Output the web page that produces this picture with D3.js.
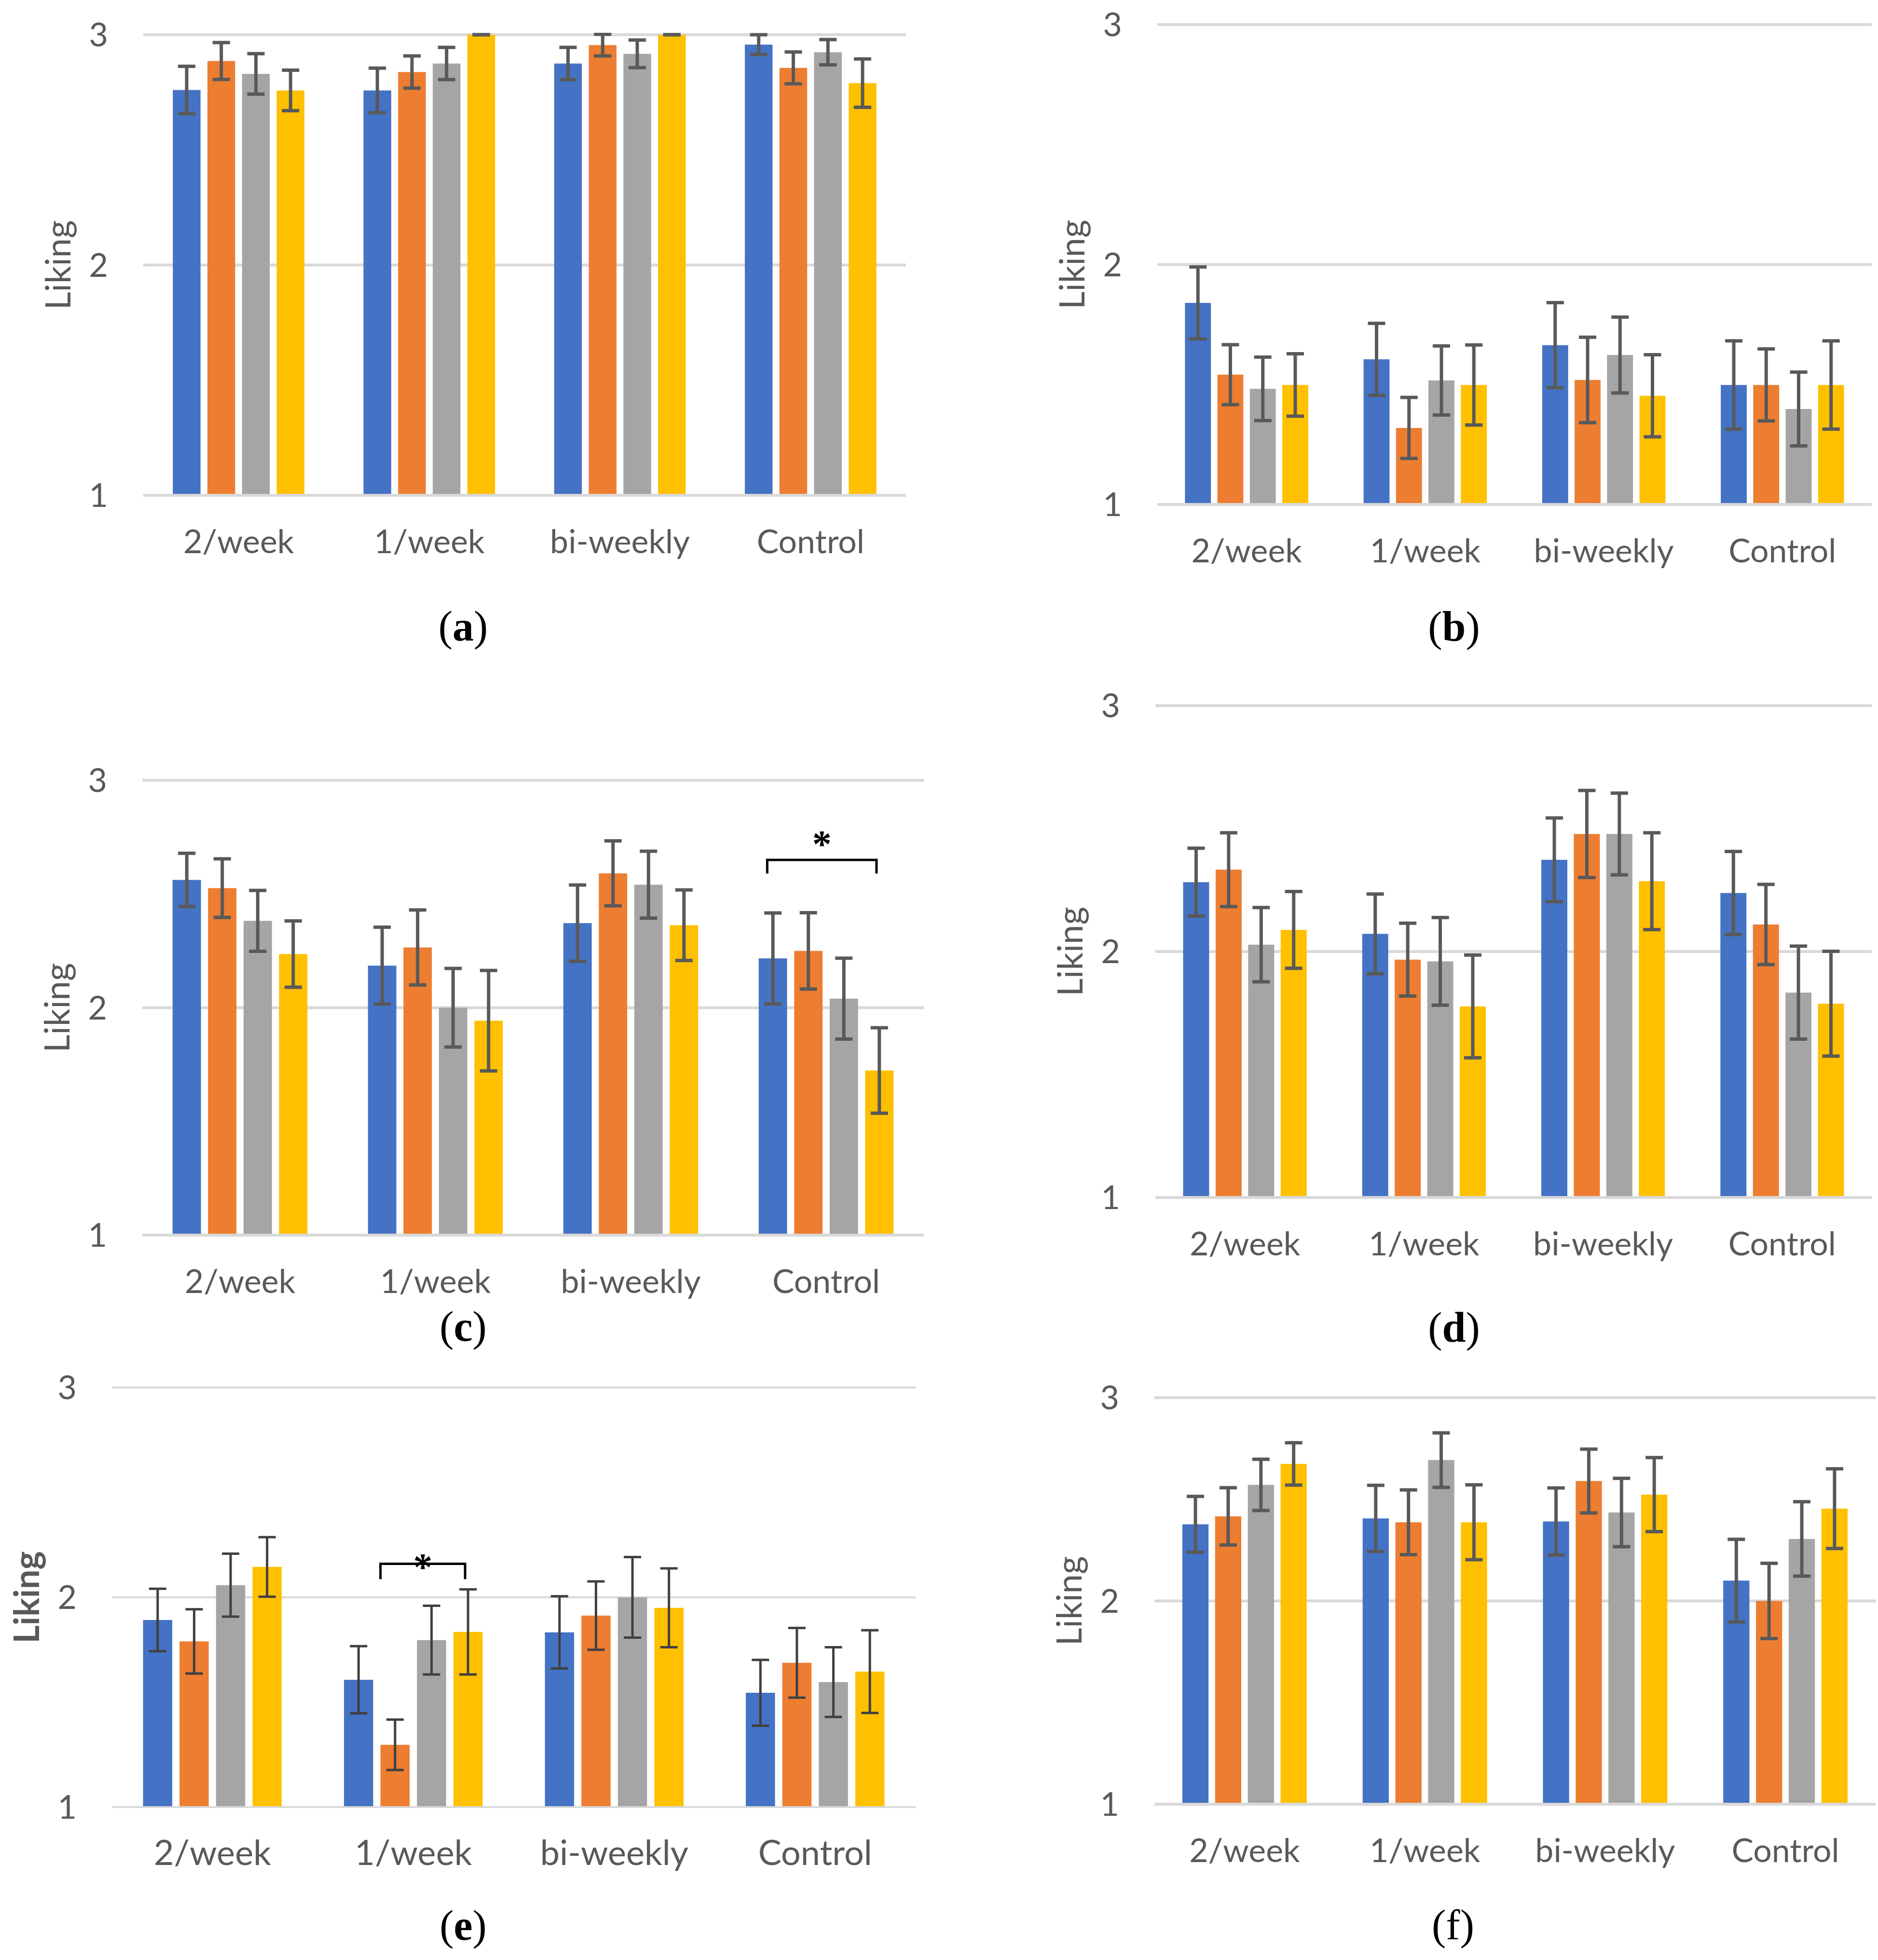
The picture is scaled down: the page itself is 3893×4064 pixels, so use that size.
<!DOCTYPE html>
<html>
<head>
<meta charset="utf-8">
<script src="https://cdn.jsdelivr.net/npm/d3@7"></script>
<style>
  body { margin: 0; background: #fff; }
</style>
</head>
<body>
<div id="chart"></div>
<script>
var categories = ['2/week', '1/week', 'bi-weekly', 'Control']
var series = ['s1', 's2', 's3', 's4']
var colors = ['#4472C4', '#ED7D31', '#A5A5A5', '#FFC000']
var yTicks = [1, 2, 3]
var yTitle = 'Liking'
var letters = ['a', 'b', 'c', 'd', 'e', 'f']

// mean liking, one row per category, one value per series
var meanA = [[2.76, 2.886, 2.83, 2.758], [2.758, 2.838, 2.875, 3.0], [2.875, 2.955, 2.917, 3.0], [2.957, 2.856, 2.924, 2.79]]
var errA = [[0.103, 0.08, 0.088, 0.088], [0.097, 0.07, 0.07, 0], [0.07, 0.047, 0.06, 0], [0.043, 0.069, 0.055, 0.105]]

var meanB = [[1.84, 1.541, 1.482, 1.498], [1.605, 1.319, 1.517, 1.498], [1.664, 1.519, 1.623, 1.453], [1.498, 1.498, 1.398, 1.498]]
var errB = [[0.15, 0.125, 0.132, 0.13], [0.15, 0.127, 0.144, 0.167], [0.177, 0.178, 0.158, 0.171], [0.184, 0.15, 0.154, 0.184]]

var meanC = [[2.562, 2.526, 2.382, 2.236], [2.185, 2.265, 2.0, 1.943], [2.372, 2.591, 2.541, 2.363], [2.217, 2.25, 2.04, 1.724]]
var errC = [[0.117, 0.129, 0.134, 0.146], [0.169, 0.165, 0.173, 0.221], [0.168, 0.143, 0.147, 0.155], [0.2, 0.168, 0.178, 0.188]]

var meanD = [[2.282, 2.333, 2.028, 2.088], [2.072, 1.967, 1.96, 1.777], [2.373, 2.478, 2.478, 2.286], [2.238, 2.11, 1.833, 1.788]]
var errD = [[0.138, 0.15, 0.151, 0.156], [0.162, 0.148, 0.178, 0.209], [0.17, 0.177, 0.166, 0.197], [0.169, 0.163, 0.189, 0.213]]

var meanE = [[1.892, 1.79, 2.058, 2.145], [1.607, 1.297, 1.796, 1.835], [1.833, 1.913, 2.0, 1.95], [1.545, 1.688, 1.596, 1.646]]
var errE = [[0.149, 0.153, 0.15, 0.142], [0.16, 0.12, 0.164, 0.203], [0.172, 0.163, 0.192, 0.188], [0.157, 0.166, 0.166, 0.197]]

var meanF = [[2.377, 2.416, 2.571, 2.674], [2.406, 2.387, 2.693, 2.387], [2.391, 2.59, 2.435, 2.523], [2.1, 2.0, 2.305, 2.454]]
var errF = [[0.137, 0.141, 0.126, 0.104], [0.163, 0.159, 0.134, 0.184], [0.165, 0.157, 0.168, 0.182], [0.203, 0.185, 0.183, 0.196]]

// significance brackets: category, first and last series, level on the liking scale
var sigC = [{ cat: 'Control', from: 0, to: 3, level: 2.65, tip: 2.59 }]
var sigE = [{ cat: '1/week', from: 1, to: 3, level: 2.16, tip: 2.087 }]

var means = [meanA, meanB, meanC, meanD, meanE, meanF]
var errs = [errA, errB, errC, errD, errE, errF]
var sigs = [[], [], sigC, [], sigE, []]

// panel frames in page pixels
var frames = [
  { left: 297, right: 1878, top: 72, bottom: 1027, lx: 960, ly: 1328 },
  { left: 2399, right: 3880, top: 51, bottom: 1046, lx: 3014, ly: 1329 },
  { left: 295, right: 1915, top: 1618, bottom: 2561, lx: 960, ly: 2780 },
  { left: 2395, right: 3880, top: 1463, bottom: 2483, lx: 3014, ly: 2782 },
  { left: 232, right: 1898, top: 2877, bottom: 3747, lx: 960, ly: 4022 },
  { left: 2393, right: 3888, top: 2898, bottom: 3741, lx: 3012, ly: 4021 }
]

var W = 3893, H = 4064
var textCol = '#595959'
var font = 'Lato, "Open Sans", sans-serif'

var svg = d3.select('#chart').append('svg')
  .attr('width', W)
  .attr('height', H)
  .style('background', '#fff')

function drawPanel(p) {
  var f = frames[p]
  var g = svg.append('g').attr('id', 'panel' + letters[p])
  var y = d3.scaleLinear().domain([1, 3]).range([f.bottom, f.top])
  var x0 = d3.scaleBand().domain(categories).range([f.left, f.right])
  var bw = x0.bandwidth()
  var x1 = d3.scaleBand().domain(series).range([bw * 0.155, bw * 0.845]).paddingInner(0.2)

  g.append('clipPath').attr('id', 'clip' + p)
    .append('rect')
    .attr('x', f.left).attr('y', f.top - 4)
    .attr('width', f.right - f.left).attr('height', f.bottom - f.top + 4)

  var gridW = p == 4 ? 4 : 6
  // gridlines (baseline is redrawn over the bars)
  g.selectAll('.grid').data(yTicks.filter(function (t) { return t != 1 }))
    .enter().append('line')
    .attr('x1', f.left).attr('x2', f.right)
    .attr('y1', function (d) { return y(d) }).attr('y2', function (d) { return y(d) })
    .attr('stroke', '#D9D9D9').attr('stroke-width', gridW)

  var rows = categories.map(function (c, i) {
    return series.map(function (s, j) {
      return { cat: c, ser: s, j: j, m: means[p][i][j], e: errs[p][i][j] }
    })
  })
  var flat = [].concat.apply([], rows)

  var plot = g.append('g').attr('clip-path', 'url(#clip' + p + ')')
  plot.selectAll('rect.bar').data(flat).enter().append('rect')
    .attr('class', 'bar')
    .attr('x', function (d) { return x0(d.cat) + x1(d.ser) })
    .attr('y', function (d) { return y(d.m) })
    .attr('width', x1.bandwidth())
    .attr('height', function (d) { return y(1) - y(d.m) })
    .attr('fill', function (d) { return colors[d.j] })

  g.append('line')
    .attr('x1', f.left).attr('x2', f.right)
    .attr('y1', y(1)).attr('y2', y(1))
    .attr('stroke', '#D9D9D9').attr('stroke-width', gridW)

  var capW = 18
  var eb = plot.selectAll('g.err').data(flat).enter().append('g')
    .attr('stroke', p == 4 ? '#404040' : '#595959')
    .attr('stroke-width', p == 4 ? 5 : 7)
  eb.append('line')
    .attr('x1', function (d) { return x0(d.cat) + x1(d.ser) + x1.bandwidth() / 2 })
    .attr('x2', function (d) { return x0(d.cat) + x1(d.ser) + x1.bandwidth() / 2 })
    .attr('y1', function (d) { return y(d.m - d.e) })
    .attr('y2', function (d) { return y(d.m + d.e) })
  eb.selectAll('line.cap').data(function (d) { return [d.m - d.e, d.m + d.e].map(function (v) { return { v: v, d: d } }) })
    .enter().append('line')
    .attr('class', 'cap')
    .attr('x1', function (c) { return x0(c.d.cat) + x1(c.d.ser) + x1.bandwidth() / 2 - capW })
    .attr('x2', function (c) { return x0(c.d.cat) + x1(c.d.ser) + x1.bandwidth() / 2 + capW })
    .attr('y1', function (c) { return y(c.v) })
    .attr('y2', function (c) { return y(c.v) })

  // significance bracket
  sigs[p].forEach(function (s) {
    var xa = x0(s.cat) + x1(series[s.from]) + (s.from == 0 ? x1.bandwidth() * 0.3 : 0)
    var xb = x0(s.cat) + x1(series[s.to]) + x1.bandwidth() * 0.4
    g.append('path')
      .attr('d', 'M' + xa + ',' + y(s.tip) + 'L' + xa + ',' + y(s.level) + 'L' + xb + ',' + y(s.level) + 'L' + xb + ',' + y(s.tip))
      .attr('fill', 'none').attr('stroke', '#000').attr('stroke-width', 5)
    g.append('text')
      .attr('x', (xa + xb) / 2)
      .attr('y', p == 4 ? y(s.tip) + 2 : y(s.level) - 6)
      .attr('text-anchor', 'middle')
      .attr('font-family', '"Liberation Serif", serif')
      .attr('font-weight', 'bold')
      .attr('font-size', 80)
      .text('*')
  })

  // y tick labels
  g.selectAll('text.tick').data(yTicks).enter().append('text')
    .attr('class', 'tick')
    .attr('x', f.left - 73)
    .attr('y', function (d) { return y(d) })
    .attr('dy', '0.36em')
    .attr('text-anchor', 'end')
    .attr('font-family', font).attr('font-size', 68).attr('fill', textCol)
    .text(function (d) { return d })

  // category labels
  g.selectAll('text.cat').data(categories).enter().append('text')
    .attr('class', 'cat')
    .attr('x', function (d) { return x0(d) + bw / 2 })
    .attr('y', f.bottom + 120)
    .attr('text-anchor', 'middle')
    .attr('font-family', font).attr('font-size', p == 4 ? 72 : 68).attr('fill', textCol)
    .text(function (d) { return d })

  // axis title
  g.append('text')
    .attr('transform', 'translate(' + (f.left - 177) + ',' + ((f.top + f.bottom) / 2) + ') rotate(-90)')
    .attr('dy', '0.36em')
    .attr('text-anchor', 'middle')
    .attr('font-family', font).attr('font-size', 72).attr('fill', textCol)
    .attr('font-weight', p == 4 ? 'bold' : 'normal')
    .text(yTitle)

  // panel letter
  var lab = g.append('text')
    .attr('x', f.lx).attr('y', f.ly)
    .attr('text-anchor', 'middle')
    .attr('font-family', '"Liberation Serif", "Times New Roman", serif')
    .attr('font-size', 88).attr('fill', '#000')
  lab.append('tspan').text('(')
  lab.append('tspan').attr('font-weight', letters[p] == 'f' ? 'normal' : 'bold').text(letters[p])
  lab.append('tspan').text(')')
}

for (var p = 0; p < frames.length; p++) {
  drawPanel(p)
}
</script>
</body>
</html>
